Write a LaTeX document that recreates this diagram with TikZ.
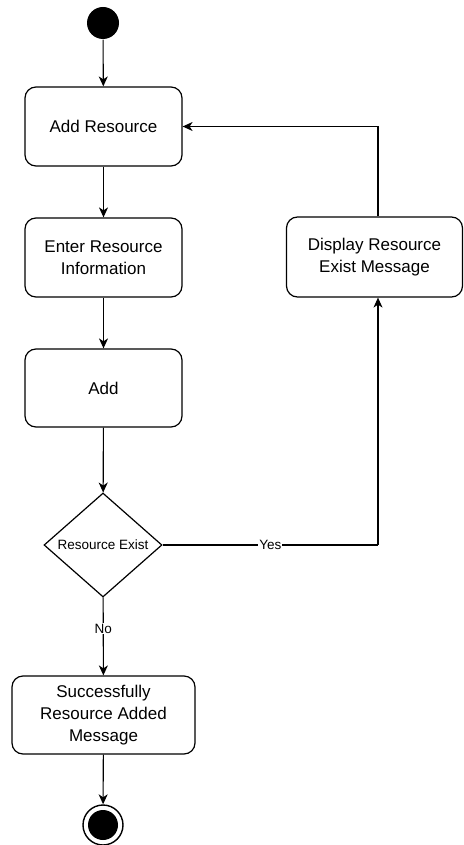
\documentclass[tikz,border=0pt]{standalone}
\usepackage{fontspec}
\setmainfont{Liberation Sans}
\usetikzlibrary{shapes.geometric,arrows.meta}
\begin{document}
\begin{tikzpicture}[x=1pt,y=-1pt,
  every path/.style={line width=1.2pt},
  box/.style={draw, rounded corners=11pt, align=center, inner sep=0pt, font=\fontsize{17}{22}\selectfont, line width=1.2pt},
  dec/.style={draw, diamond, aspect=1.13, inner sep=0pt, minimum width=118pt, minimum height=104pt, font=\fontsize{13.5}{16}\selectfont, line width=1.2pt},
  lbl/.style={fill=white, inner sep=1pt, font=\fontsize{13.5}{16}\selectfont},
  arr/.style={-{Stealth[length=10pt,width=9pt,inset=3pt]}, line width=1.1pt}]
\useasboundingbox (0,0) rectangle (463,845);
\node[circle, fill=black, minimum size=32pt, inner sep=0pt] (start) at (103,23) {};
\node[box, minimum width=157pt, minimum height=79pt] (n1) at (103.5,126.5) {Add Resource};
\node[box, minimum width=157pt, minimum height=79pt] (n2) at (103.5,257.5) {Enter Resource\\Information};
\node[box, minimum width=157pt, minimum height=78pt] (n3) at (103.5,388) {Add};
\node[dec] (d) at (103,545) {Resource Exist};
\node[box, minimum width=183pt, minimum height=78pt] (n4) at (103.5,715) {Successfully\\Resource Added\\Message};
\node[circle, draw, line width=1.4pt, minimum size=40pt, inner sep=0pt] (end) at (103,825) {};
\node[circle, fill=black, minimum size=30pt, inner sep=0pt] (endin) at (103,825) {};
\node[box, minimum width=176pt, minimum height=80pt] (n5) at (374.5,257) {Display Resource\\Exist Message};
\coordinate (c1) at (378,545);
\draw[arr] (start) -- (n1);
\draw[arr] (n1) -- (n2);
\draw[arr] (n2) -- (n3);
\draw[arr] (n3) -- (d);
\draw[arr] (d) -- node[lbl, pos=0.4] {No} (n4);
\draw[arr] (n4) -- (end);
\draw (d.east) -- node[lbl] {Yes} (c1);
\draw[arr] (c1) -- (c1 |- n5.south);
\draw[arr] (c1 |- n5.north) |- (n1.east);
\end{tikzpicture}
\end{document}
